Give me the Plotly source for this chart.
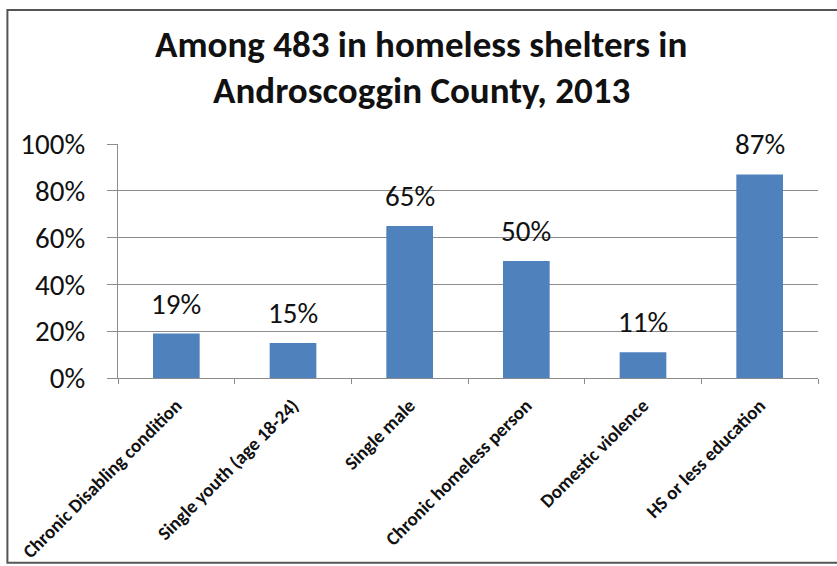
import plotly.graph_objects as go

# Share of people in Androscoggin County homeless shelters, 2013
categories = [
    "Chronic Disabling condition",
    "Single youth (age 18-24)",
    "Single male",
    "Chronic homeless person",
    "Domestic violence",
    "HS or less education",
]
percentages = [19, 15, 65, 50, 11, 87]
y_ticks = [0, 20, 40, 60, 80, 100]
y_tick_labels = [f"{v}%" for v in y_ticks]
title_lines = ["Among 483 in homeless shelters in", "Androscoggin County, 2013"]

FONT = "Carlito, Lato, Liberation Sans, sans-serif"
BAR_BLUE = "#4F81BD"
GRID = "#8c8c8c"

fig = go.Figure(
    go.Bar(
        x=categories,
        y=percentages,
        marker=dict(color=BAR_BLUE, line=dict(width=0)),
        hoverinfo="x+y",
    )
)

# Value labels above each bar
annotations = [
    dict(
        x=c, y=v, xref="x", yref="y",
        text=f"{v}%", showarrow=False,
        yanchor="bottom", yshift=10,
        font=dict(family=FONT, size=29, color="#111111"),
    )
    for c, v in zip(categories, percentages)
]

# Two-line chart title, centred on the page
for line, ypos in zip(title_lines, [1.427, 1.228]):
    annotations.append(
        dict(
            x=0.433, xref="paper", y=ypos, yref="paper",
            text=f"<b>{line}</b>", showarrow=False,
            xanchor="center", yanchor="middle",
            font=dict(family=FONT, size=37, color="#111111"),
        )
    )

fig.update_layout(
    width=837,
    height=566,
    margin=dict(l=118, r=19, t=144, b=188),
    paper_bgcolor="white",
    plot_bgcolor="white",
    bargap=0.6,
    showlegend=False,
    annotations=annotations,
    shapes=[
        dict(
            type="rect", xref="paper", yref="paper",
            x0=-0.158, x1=1.08, y0=-0.79, y1=1.573,
            line=dict(color="#555555", width=2),
            fillcolor="rgba(0,0,0,0)", layer="below",
        )
    ],
)

fig.update_yaxes(
    range=[0, 100],
    tickvals=y_ticks,
    ticktext=y_tick_labels,
    showgrid=True,
    gridcolor=GRID,
    gridwidth=1,
    showline=True,
    linecolor=GRID,
    linewidth=1,
    ticks="outside",
    ticklen=10,
    tickcolor=GRID,
    ticklabelstandoff=16,
    zeroline=False,
    automargin=False,
    tickfont=dict(family=FONT, size=29, color="#111111"),
)

fig.update_xaxes(
    showline=True,
    linecolor=GRID,
    linewidth=1,
    ticks="outside",
    ticklen=5,
    tickcolor=GRID,
    tickson="boundaries",
    tickangle=-45,
    ticklabelstandoff=8,
    automargin=False,
    tickfont=dict(family=FONT, size=19, color="#111111", weight="bold"),
)

fig.write_html("out.html")
